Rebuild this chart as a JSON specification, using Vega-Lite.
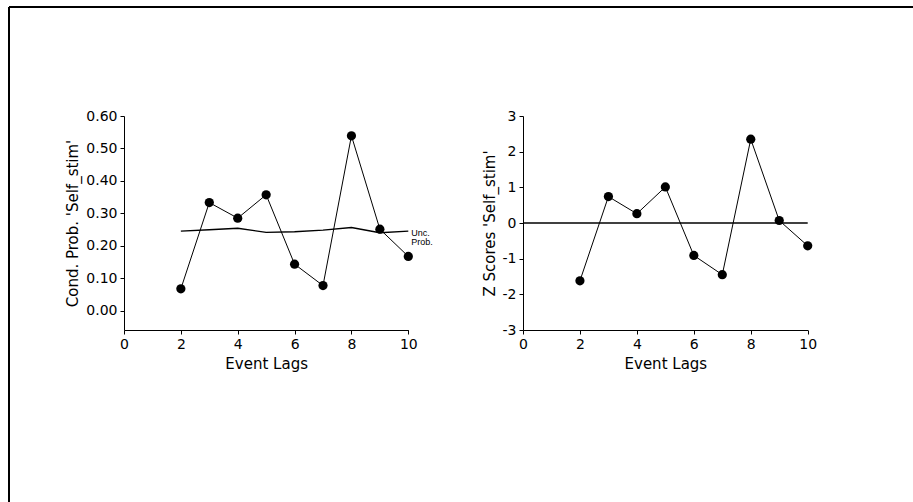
{
  "$schema": "https://vega.github.io/schema/vega-lite/v6.json",
  "width": 904,
  "height": 495,
  "autosize": {"type": "none"},
  "padding": {"left": 9, "top": 7, "right": 0, "bottom": 0},
  "background": "white",
  "config": {
    "view": {"stroke": null},
    "font": "DejaVu Sans",
    "axis": {
      "grid": false,
      "domainColor": "black",
      "domainWidth": 1,
      "tickColor": "black",
      "tickSize": 4,
      "tickWidth": 1,
      "labelColor": "black",
      "labelFont": "DejaVu Sans",
      "labelFontSize": 14,
      "labelFlush": false,
      "labelOverlap": false,
      "labelPadding": 3,
      "titleColor": "black",
      "titleFont": "DejaVu Sans",
      "titleFontSize": 15,
      "titleFontWeight": "normal",
      "titlePadding": 5
    }
  },
  "datasets": {
    "cond": [
      {"Lag": 2, "CondProb": 0.067, "UncProb": 0.245},
      {"Lag": 3, "CondProb": 0.333, "UncProb": 0.249},
      {"Lag": 4, "CondProb": 0.285, "UncProb": 0.254},
      {"Lag": 5, "CondProb": 0.357, "UncProb": 0.241},
      {"Lag": 6, "CondProb": 0.143, "UncProb": 0.243},
      {"Lag": 7, "CondProb": 0.077, "UncProb": 0.248},
      {"Lag": 8, "CondProb": 0.539, "UncProb": 0.256},
      {"Lag": 9, "CondProb": 0.251, "UncProb": 0.240},
      {"Lag": 10, "CondProb": 0.167, "UncProb": 0.245}
    ],
    "zscores": [
      {"Lag": 2, "Z": -1.62},
      {"Lag": 3, "Z": 0.74},
      {"Lag": 4, "Z": 0.26},
      {"Lag": 5, "Z": 1.01},
      {"Lag": 6, "Z": -0.91},
      {"Lag": 7, "Z": -1.45},
      {"Lag": 8, "Z": 2.35},
      {"Lag": 9, "Z": 0.07},
      {"Lag": 10, "Z": -0.64}
    ]
  },
  "layer": [
    {
      "data": {"values": [{"edge": 0}]},
      "mark": {"type": "rule", "color": "black", "strokeWidth": 2},
      "encoding": {
        "x": {"field": "edge", "type": "quantitative", "scale": {"domain": [0, 1], "nice": false, "zero": false}, "axis": null}
      }
    },
    {
      "data": {"values": [{"edge": 1}]},
      "mark": {"type": "rule", "color": "black", "strokeWidth": 2},
      "encoding": {
        "y": {"field": "edge", "type": "quantitative", "scale": {"domain": [0, 1], "nice": false, "zero": false}, "axis": null}
      }
    },
    {
      "data": {"name": "cond"},
      "encoding": {
        "x": {
          "field": "Lag", "type": "quantitative",
          "scale": {"domain": [0, 10], "range": [115, 399.3], "nice": false, "zero": false},
          "axis": {"orient": "bottom", "offset": -172, "values": [0, 2, 4, 6, 8, 10], "title": "Event Lags"}
        }
      },
      "layer": [
        {
          "mark": {"type": "line", "color": "black", "strokeWidth": 1.4},
          "encoding": {
            "y": {
              "field": "UncProb", "type": "quantitative",
              "scale": {"domain": [-0.06, 0.6], "range": [323, 109], "nice": false, "zero": false},
              "axis": {"orient": "left", "offset": -115, "values": [0, 0.1, 0.2, 0.3, 0.4, 0.5, 0.6], "format": ".2f", "title": "Cond. Prob. 'Self_stim'"}
            }
          }
        },
        {
          "mark": {"type": "line", "color": "black", "strokeWidth": 1},
          "encoding": {"y": {"field": "CondProb", "type": "quantitative"}}
        },
        {
          "mark": {"type": "point", "filled": true, "color": "black", "opacity": 1, "size": 85},
          "encoding": {"y": {"field": "CondProb", "type": "quantitative"}}
        },
        {
          "data": {"values": [{"Lag": 10, "pos": 0.24, "label": "Unc.\nProb."}]},
          "mark": {"type": "text", "align": "left", "baseline": "middle", "dx": 3, "fontSize": 9, "lineHeight": 9, "lineBreak": "\n", "color": "black", "font": "Liberation Sans"},
          "encoding": {
            "y": {"field": "pos", "type": "quantitative"},
            "text": {"field": "label"}
          }
        }
      ]
    },
    {
      "data": {"name": "zscores"},
      "encoding": {
        "x": {
          "field": "Lag", "type": "quantitative",
          "scale": {"domain": [0, 10], "range": [514, 798.7], "nice": false, "zero": false},
          "axis": {"orient": "bottom", "offset": -172, "values": [0, 2, 4, 6, 8, 10], "title": "Event Lags"}
        }
      },
      "layer": [
        {
          "data": {"values": [{"Lag": 0, "Lag2": 10, "Z": 0}]},
          "mark": {"type": "rule", "color": "black", "strokeWidth": 1.4},
          "encoding": {
            "x2": {"field": "Lag2"},
            "y": {
              "field": "Z", "type": "quantitative",
              "scale": {"domain": [-3, 3], "range": [323, 109], "nice": false, "zero": false},
              "axis": {"orient": "left", "offset": -514, "values": [-3, -2, -1, 0, 1, 2, 3], "labelExpr": "'' + datum.value", "title": "Z Scores 'Self_stim'"}
            }
          }
        },
        {
          "mark": {"type": "line", "color": "black", "strokeWidth": 1},
          "encoding": {"y": {"field": "Z", "type": "quantitative"}}
        },
        {
          "mark": {"type": "point", "filled": true, "color": "black", "opacity": 1, "size": 85},
          "encoding": {"y": {"field": "Z", "type": "quantitative"}}
        }
      ]
    }
  ],
  "resolve": {
    "scale": {"x": "independent", "y": "independent"},
    "axis": {"x": "independent", "y": "independent"}
  }
}
